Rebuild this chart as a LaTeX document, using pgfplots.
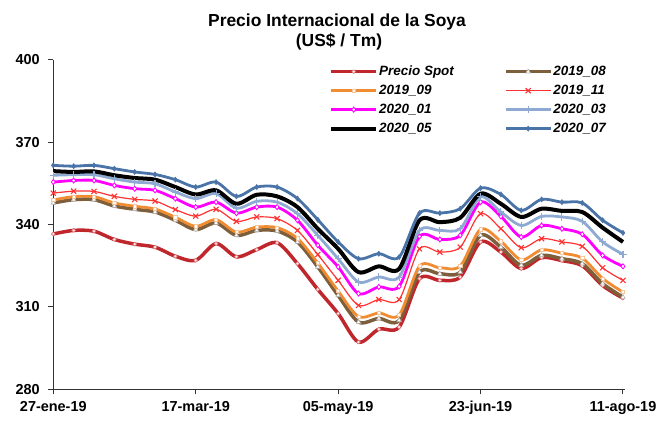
\documentclass[border=0pt]{standalone}
\usepackage{fontspec}
\setmainfont{Liberation Sans}
\usepackage{pgfplots}
\pgfplotsset{compat=1.18}
\usepackage{pgfplotstable}
\usetikzlibrary{calc}
\definecolor{cspot}{RGB}{192,39,45}
\definecolor{c08}{RGB}{125,95,60}
\definecolor{c09}{RGB}{240,140,50}
\definecolor{c11}{RGB}{255,50,50}
\definecolor{c01}{RGB}{255,0,255}
\definecolor{c03}{RGB}{143,170,210}
\definecolor{c07}{RGB}{74,116,168}
\pgfplotstableread{
i spot a08 a09 a11 b01 b03 b05 b07
0 336.6 347.9 349.0 351.5 355.5 358.0 359.5 361.6
1 337.9 349.1 350.2 352.2 356.1 358.2 359.2 361.3
2 337.6 349.1 350.2 352.1 356.1 358.2 359.4 361.6
3 334.6 346.8 347.9 350.3 354.3 356.7 358.0 360.4
4 332.9 345.6 346.7 349.2 353.1 355.5 357.0 359.2
5 331.8 344.6 345.7 348.6 352.5 354.9 356.4 358.3
6 328.5 341.6 342.7 345.5 349.5 351.9 353.7 356.4
7 327.0 338.2 339.4 343.1 346.4 349.5 351.0 353.7
8 333.1 340.6 341.8 345.6 348.2 351.3 352.5 355.5
9 328.3 336.1 337.3 341.2 344.2 346.0 347.6 350.3
10 330.9 337.9 339.1 342.8 346.4 348.5 350.9 353.7
11 333.4 337.7 338.9 342.2 346.4 348.2 350.3 353.7
12 325.8 333.7 335.0 337.9 341.6 344.0 346.4 349.5
13 316.4 324.6 326.0 329.1 332.5 336.1 338.5 341.8
14 307.6 314.2 315.8 319.7 324.6 327.6 331.2 333.7
15 297.2 304.5 306.5 310.6 314.9 319.1 322.7 327.6
16 301.9 305.8 307.8 312.7 317.3 320.9 324.8 329.4
17 302.7 305.1 307.1 312.7 317.5 320.9 323.9 328.2
18 320.3 322.7 324.9 331.2 335.7 337.9 341.6 344.2
19 319.7 322.1 324.3 330.0 334.6 337.9 340.9 344.2
20 320.9 322.7 324.9 331.8 336.1 338.5 342.5 345.8
21 333.7 336.1 338.3 344.0 348.2 350.1 351.3 353.3
22 330.0 331.8 333.9 338.5 343.0 344.6 347.6 351.0
23 324.0 325.2 327.2 331.6 335.5 339.7 342.8 345.2
24 328.0 328.8 330.8 334.9 339.7 343.0 345.8 349.2
25 326.9 327.6 329.6 333.7 338.5 342.8 345.0 348.2
26 325.0 325.8 327.8 332.1 336.5 341.2 344.6 347.9
27 317.8 318.5 320.4 324.3 328.8 333.7 338.9 341.6
28 313.2 313.6 315.4 319.7 324.8 329.2 333.7 337.0
}\datatab
\begin{document}
\begin{tikzpicture}
\begin{axis}[
  name=ax,
  scale only axis, width=571.7bp, height=329.3bp,
  xmin=0, xmax=28.1, ymin=280, ymax=400,
  axis x line*=bottom, axis y line*=left,
  axis line style={line width=1.2bp, black!80},
  tick align=outside, major tick length=5bp,
  tick style={line width=1bp, black!80},
  xtick={0,7,14,21,28},
  xticklabels={27-ene-19,17-mar-19,05-may-19,23-jun-19,11-ago-19},
  ytick={280,310,340,370,400},
  /pgf/number format/assume math mode=true,
  ticklabel style={font=\bfseries\fontsize{14.5}{16}\selectfont},
  yticklabel style={xshift=-5bp},
  xticklabel style={yshift=-3.5bp},
  legend columns=2,
  legend cell align=left,
  legend style={draw=none, fill=none, at={(0.477,0.994)}, anchor=north west,
    font=\bfseries\itshape\fontsize{13.5}{15}\selectfont,
    nodes={inner sep=1bp, text height=10bp, text depth=3bp},
    row sep=4bp,
    /tikz/every even column/.append style={column sep=49bp}},
  legend image code/.code={\draw[mark repeat=2,mark phase=2,#1] plot coordinates {(0bp,0bp) (22.5bp,0bp) (45bp,0bp)};},
  every axis plot/.append style={smooth, tension=0.5},
]
\addplot[cspot, line width=3.5bp, mark=*, mark size=1.9bp, mark options={fill=pink!30, draw=pink!50!cspot, line width=0.6bp}] table[x=i,y=spot]{\datatab};
\addlegendentry{Precio Spot}
\addplot[c08, line width=3.5bp, mark=triangle*, mark size=2.6bp, mark options={fill=white, draw=black!30, line width=0.6bp}] table[x=i,y=a08]{\datatab};
\addlegendentry{2019\_08}
\addplot[c09, line width=2.8bp, mark=square*, mark size=1.6bp, mark options={fill=white, draw=c09!50, line width=0.6bp}] table[x=i,y=a09]{\datatab};
\addlegendentry{2019\_09}
\addplot[c11, line width=1.2bp, mark=x, mark size=3.6bp, mark options={line width=1.1bp}] table[x=i,y=a11]{\datatab};
\addlegendentry{2019\_11}
\addplot[c01, line width=2.8bp, mark=diamond*, mark size=2.6bp, mark options={fill=white, draw=c01, line width=0.8bp}] table[x=i,y=b01]{\datatab};
\addlegendentry{2020\_01}
\addplot[c03, line width=2.8bp, mark=+, mark size=3.6bp, mark options={line width=1.1bp}] table[x=i,y=b03]{\datatab};
\addlegendentry{2020\_03}
\addplot[black, line width=4bp, no marks] table[x=i,y=b05]{\datatab};
\addlegendentry{2020\_05}
\addplot[c07, line width=2.8bp, mark=diamond*, mark size=2.6bp, mark options={fill=c07, line width=0.5bp}] table[x=i,y=b07]{\datatab};
\addlegendentry{2020\_07}
\end{axis}
\node[anchor=base, font=\bfseries\fontsize{17.5}{20}\selectfont] at ($(ax.south west)+(283.7bp,362.3bp)$) {Precio Internacional de la Soya};
\node[anchor=base, font=\bfseries\fontsize{17.5}{20}\selectfont] at ($(ax.south west)+(285.7bp,342.3bp)$) {(US\$ / Tm)};
\pgfresetboundingbox
\path[use as bounding box] ($(ax.south west)+(-53.3bp,-37.7bp)$) rectangle ++(663bp,427bp);
\end{tikzpicture}
\end{document}
